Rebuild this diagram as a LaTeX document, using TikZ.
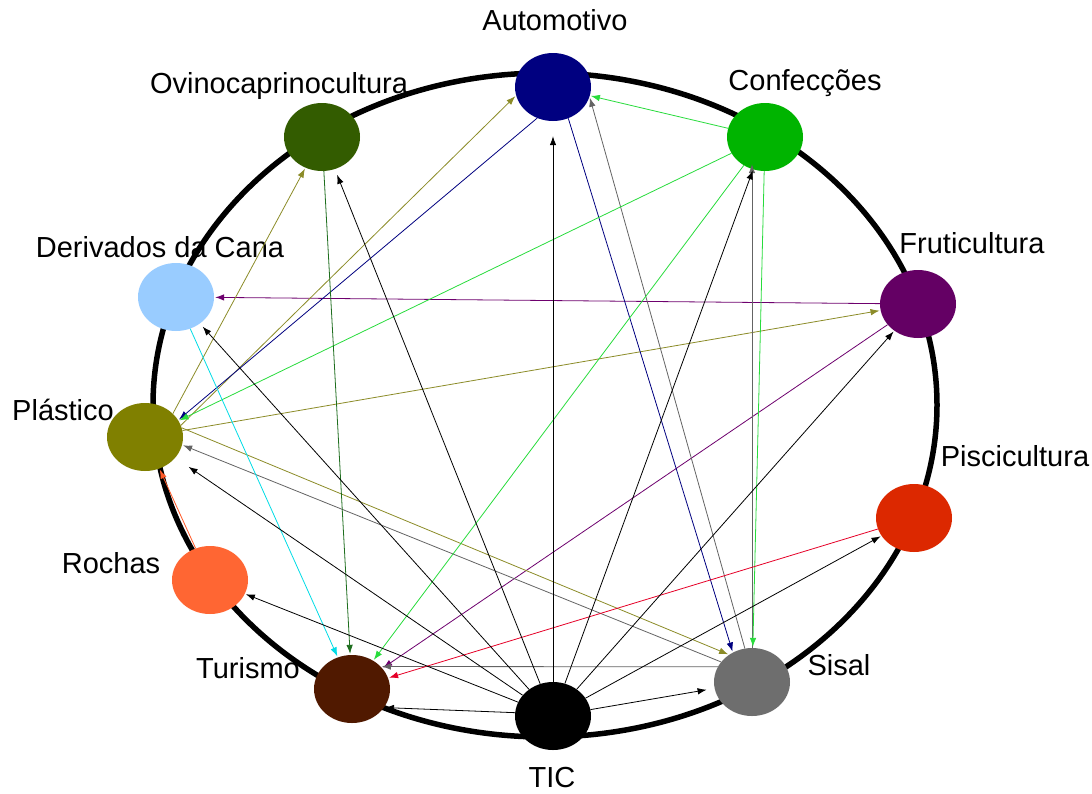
\documentclass[tikz,border=0pt]{standalone}
\usepackage{fontspec}
\setmainfont{Liberation Sans}
\usetikzlibrary{arrows.meta,shapes.geometric}
\definecolor{cAut}{RGB}{0,0,128}
\definecolor{cOvi}{RGB}{51,92,0}
\definecolor{cCon}{RGB}{0,180,0}
\definecolor{cFru}{RGB}{100,0,100}
\definecolor{cPis}{RGB}{220,40,0}
\definecolor{cSis}{RGB}{110,110,110}
\definecolor{cTur}{RGB}{80,25,0}
\definecolor{cRoc}{RGB}{255,102,51}
\definecolor{cPla}{RGB}{128,128,0}
\definecolor{cDer}{RGB}{153,204,255}
\definecolor{eOli}{RGB}{140,140,40}
\definecolor{eNav}{RGB}{0,0,128}
\definecolor{eGre}{RGB}{40,220,60}
\definecolor{eDkg}{RGB}{30,110,30}
\definecolor{eCya}{RGB}{0,220,230}
\definecolor{eOra}{RGB}{255,90,40}
\definecolor{eRed}{RGB}{230,0,40}
\definecolor{eGra}{RGB}{100,100,100}
\definecolor{ePur}{RGB}{110,0,110}
\begin{document}
\begin{tikzpicture}[x=1pt,y=-1pt,
  hub/.style={ellipse,minimum width=76pt,minimum height=68pt,inner sep=0pt,draw=none},
  lbl/.style={font=\fontsize{29}{31}\selectfont,inner sep=0pt},
  arr/.style={-{Latex[length=9pt,width=6.5pt]},line width=0.8pt,shorten >=1pt}]
\useasboundingbox (0,0) rectangle (1092,793);
\fill[white] (0,0) rectangle (1092,793);
\draw[line width=5.5pt] (545,405) ellipse [x radius=392, y radius=332];
% hubs
\node[hub,fill=cAut] (aut) at (553,87) {};
\node[hub,fill=cOvi] (ovi) at (322,137) {};
\node[hub,fill=cCon] (con) at (765,137) {};
\node[hub,fill=cFru] (fru) at (918,304) {};
\node[hub,fill=cPis] (pis) at (914,518) {};
\node[hub,fill=cSis] (sis) at (752,682) {};
\node[hub,fill=black] (tic) at (553,716) {};
\node[hub,fill=cTur] (tur) at (352,689) {};
\node[hub,fill=cRoc] (roc) at (210,580) {};
\node[hub,fill=cPla] (pla) at (145,437) {};
\node[hub,fill=cDer] (der) at (176,297) {};
% labels
\node[lbl] (laut) at (555,20) {Automotivo};
\node[lbl] (lovi) at (279,86) {Ovinocaprinocultura};
\node[lbl] (lcon) at (805,83) {Confecções};
\node[lbl] (lder) at (160,247) {Derivados da Cana};
\node[lbl] (lfru) at (972,243) {Fruticultura};
\node[lbl] (lpla) at (63,410) {Plástico};
\node[lbl] (lpis) at (1015,456) {Piscicultura};
\node[lbl] (lroc) at (111,563) {Rochas};
\node[lbl] (ltur) at (248,668) {Turismo};
\node[lbl] (lsis) at (839,665) {Sisal};
\node[lbl] (ltic) at (552,778) {TIC};
% edges
\draw[arr,ePur] (fru) -- (der);
\draw[arr,ePur] (fru) -- (tur);
\draw[arr,eOli] (pla.40) -- (ovi);
\draw[arr,eOli] (pla.18) -- (aut.193);
\draw[arr,eOli] (pla) -- (fru);
\draw[arr,eOli] (pla.14) -- (sis.130);
\draw[arr,eNav] (aut.243) -- (pla.27);
\draw[arr,eNav] (aut.-64) -- (sis.123);
\draw[arr,eGra] (sis.102) -- (aut.-15);
\draw[arr,eGra] (sis.north) -- ([yshift=8pt]sis.north |- con.south);
\draw[arr,eGra] (sis.147) -- (pla.-12);
\draw[arr,eGra] (sis.156) -- (tur.38);
\draw[arr,eGre] (con) -- (aut);
\draw[arr,eGre] (con) -- (pla);
\draw[arr,eGre] (con) -- (tur);
\draw[arr,eGre] (con) -- (sis);
\draw[arr,eDkg] (ovi) -- (tur);
\draw[arr,eCya] (der) -- (tur);
\draw[arr,eOra] (roc) -- (pla);
\draw[arr,eRed] (pis) -- (tur);
\draw[arr,black,shorten >=15pt] (tic) -- (aut);
\draw[arr,black,shorten >=6pt] (tic) -- (ovi);
\draw[arr,black,shorten >=4pt] (tic) -- (der);
\draw[arr,black,shorten >=16pt] (tic) -- (pla);
\draw[arr,black] (tic) -- (roc);
\draw[arr,black] (tic.175) -- (tur.-30);
\draw[arr,black,shorten >=8pt] (tic) -- (sis);
\draw[arr,black] (tic) -- (pis);
\draw[arr,black] (tic) -- (fru);
\draw[arr,black] (tic) -- (con);
\end{tikzpicture}
\end{document}
